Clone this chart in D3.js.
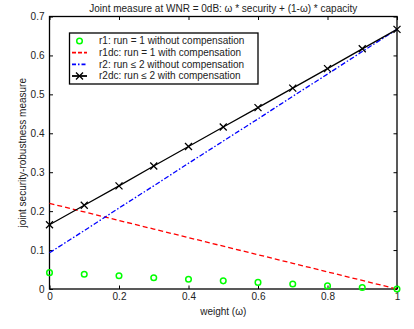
<!DOCTYPE html>
<html><head><meta charset="utf-8">
<script src="https://cdn.jsdelivr.net/npm/d3@7"></script>
<style>body{margin:0;background:#fff}svg{display:block}text{font-family:"Liberation Sans",Arial,sans-serif;fill:#222}</style>
</head><body>
<svg id="c" width="414" height="329"></svg>
<script>
const weights = [0,0.1,0.2,0.3,0.4,0.5,0.6,0.7,0.8,0.9,1];
const r1 = [0.042,0.038,0.034,0.029,0.025,0.021,0.017,0.013,0.008,0.004,0.0];
const r1dc = [0.22,0.198,0.176,0.154,0.132,0.11,0.088,0.066,0.044,0.022,0.0];
const r2 = [0.093,0.150,0.208,0.265,0.323,0.380,0.437,0.495,0.552,0.610,0.667];
const r2dc = [0.165,0.215,0.265,0.316,0.366,0.416,0.466,0.516,0.566,0.617,0.667];
const xTicks = [0,0.2,0.4,0.6,0.8,1];
const yTicks = [0,0.1,0.2,0.3,0.4,0.5,0.6,0.7];
const legendLabels = ["r1: run = 1 without compensation","r1dc: run = 1 with compensation","r2: run \u2264 2 without compensation","r2dc: run \u2264 2 with compensation"];
const titleText = "Joint measure at WNR = 0dB: \u03c9 * security + (1-\u03c9) * capacity";

const svg = d3.select("#c");
const L=49.5, R=397, T=16.5, B=289;
const x = d3.scaleLinear().domain([0,1]).range([L,R]);
const y = d3.scaleLinear().domain([0,0.7]).range([B,T]);
const tl = 3.5;

const g = svg.append("g");
g.append("g").attr("transform",`translate(0,${B})`).call(d3.axisBottom(x).tickValues(xTicks).tickFormat(d3.format("")).tickSizeInner(-tl).tickSizeOuter(0).tickPadding(6))
 .call(a=>{a.select(".domain").remove();a.selectAll("text").attr("font-size",10).attr("dy","0.71em").attr("y",4);});
g.append("g").attr("transform",`translate(0,${T})`).call(d3.axisTop(x).tickValues(xTicks).tickFormat("").tickSizeInner(-tl).tickSizeOuter(0))
 .call(a=>a.select(".domain").remove());
g.append("g").attr("transform",`translate(${L},0)`).call(d3.axisLeft(y).tickValues(yTicks).tickFormat(d3.format("")).tickSizeInner(-tl).tickSizeOuter(0))
 .call(a=>{a.select(".domain").remove();a.selectAll("text").attr("font-size",10).attr("x",-5);});
g.append("g").attr("transform",`translate(${R},0)`).call(d3.axisRight(y).tickValues(yTicks).tickFormat("").tickSizeInner(-tl).tickSizeOuter(0))
 .call(a=>a.select(".domain").remove());
g.selectAll(".tick line").attr("stroke","#000");
g.selectAll("text").attr("fill","#222").attr("font-family","Liberation Sans, Arial, sans-serif");
svg.append("rect").attr("x",L).attr("y",T).attr("width",R-L).attr("height",B-T).attr("fill","none").attr("stroke","#000").attr("stroke-width",1.3);

const line = d3.line().x((d,i)=>x(weights[i])).y(d=>y(d));
const plot = svg.append("g");
plot.append("path").attr("d",line(r1dc)).attr("fill","none").attr("stroke","#f00").attr("stroke-width",1.3).attr("stroke-dasharray","5,3");
plot.append("path").attr("d",line(r2)).attr("fill","none").attr("stroke","#00f").attr("stroke-width",1.3).attr("stroke-dasharray","5,2,1.5,2");
plot.append("path").attr("d",line(r2dc)).attr("fill","none").attr("stroke","#000").attr("stroke-width",1.3);
const xm = (sel,s)=>sel.attr("d",`M${-s},${-s}L${s},${s}M${-s},${s}L${s},${-s}`).attr("stroke","#000").attr("stroke-width",1.3).attr("fill","none");
plot.selectAll(".xm").data(r2dc).enter().append("path").attr("transform",(d,i)=>`translate(${x(weights[i])},${y(d)})`).call(xm,3.5);
plot.selectAll(".ci").data(r1).enter().append("circle").attr("cx",(d,i)=>x(weights[i])).attr("cy",d=>y(d)).attr("r",2.8).attr("fill","none").attr("stroke","#0f0").attr("stroke-width",1.5);

const lg = svg.append("g");
lg.append("rect").attr("x",69.5).attr("y",33).attr("width",188.5).attr("height",51).attr("fill","#fff").attr("stroke","#000").attr("stroke-width",1.3);
const rowY = [41,52.7,64.4,76];
const sx1=72, sx2=87, tx=99;
lg.append("circle").attr("cx",(sx1+sx2)/2).attr("cy",rowY[0]).attr("r",2.8).attr("fill","none").attr("stroke","#0f0").attr("stroke-width",1.5);
lg.append("line").attr("x1",sx1).attr("x2",sx2).attr("y1",rowY[1]).attr("y2",rowY[1]).attr("stroke","#f00").attr("stroke-width",1.8).attr("stroke-dasharray","4,2");
lg.append("line").attr("x1",sx1).attr("x2",sx2).attr("y1",rowY[2]).attr("y2",rowY[2]).attr("stroke","#00f").attr("stroke-width",1.8).attr("stroke-dasharray","4,2,1.5,2");
lg.append("line").attr("x1",sx1).attr("x2",sx2).attr("y1",rowY[3]).attr("y2",rowY[3]).attr("stroke","#000").attr("stroke-width",1.8);
lg.append("path").attr("transform",`translate(${(sx1+sx2)/2},${rowY[3]})`).call(xm,3.5);
lg.selectAll(".lt").data(legendLabels).enter().append("text").attr("x",tx).attr("y",(d,i)=>rowY[i]).attr("dy","0.33em").attr("font-size",10).text(d=>d);

svg.append("text").attr("x",(L+R)/2).attr("y",11.5).attr("text-anchor","middle").attr("font-size",10).text(titleText);
svg.append("text").attr("x",(L+R)/2).attr("y",315).attr("text-anchor","middle").attr("font-size",10).text("weight (\u03c9)");
svg.append("text").attr("transform",`translate(26,${(T+B)/2}) rotate(-90)`).attr("text-anchor","middle").attr("font-size",10).text("joint security-robustness measure");
</script>
</body></html>
